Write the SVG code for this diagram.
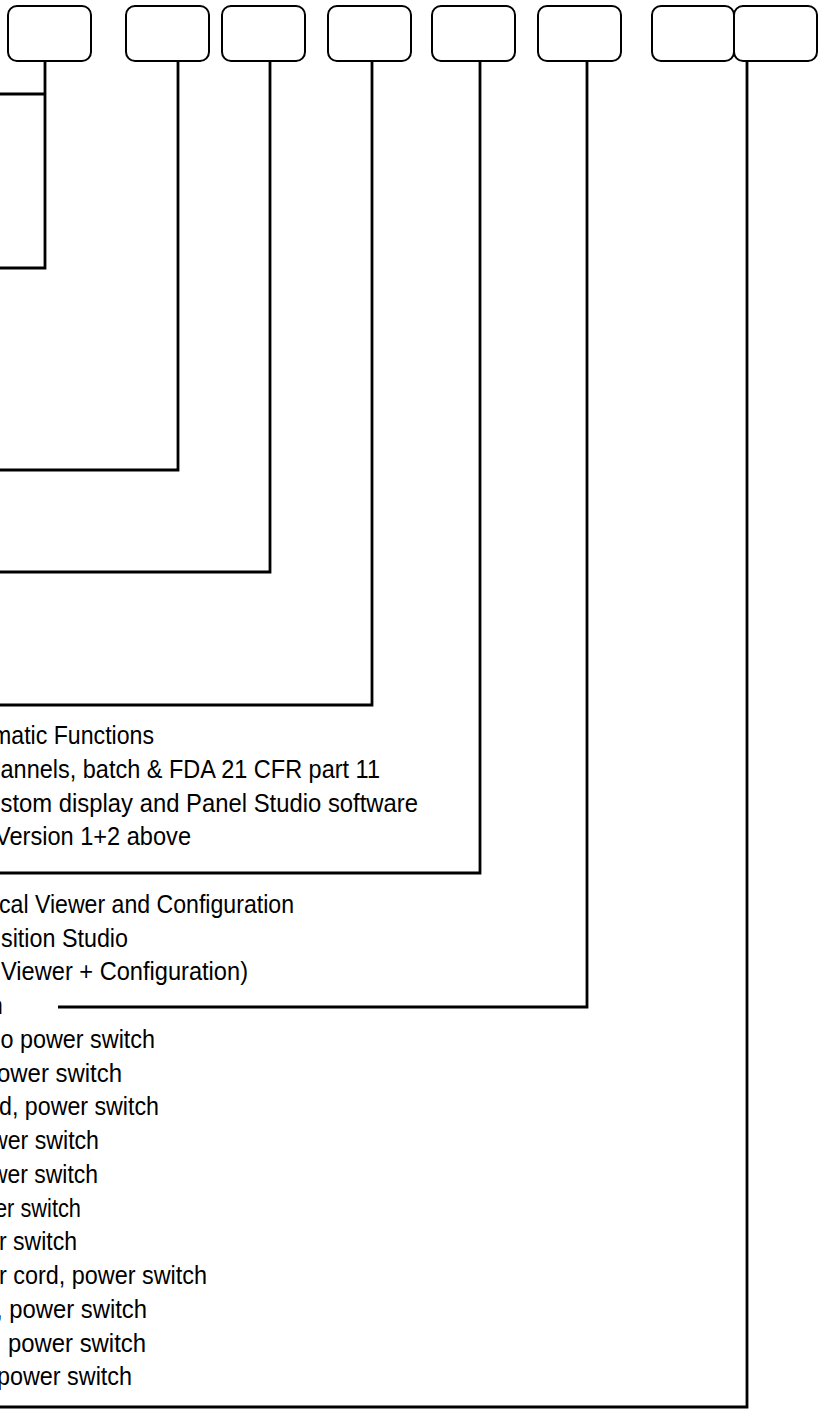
<svg xmlns="http://www.w3.org/2000/svg" width="819" height="1409" viewBox="0 0 819 1409">
<style>
.box{fill:#fff;stroke:#000;stroke-width:2}
.con{fill:none;stroke:#000;stroke-width:2.8;stroke-linecap:butt;stroke-linejoin:miter}
.t{font-family:"Liberation Sans",Arial,sans-serif;font-size:25.5px;fill:#000}
</style>
<rect width="819" height="1409" fill="#fff"/>
<g id="connectors">
<path class="con" d="M45,61 V268 H0 M45,94 H0"/>
<path class="con" d="M178,61 V470 H0"/>
<path class="con" d="M270,61 V572 H0"/>
<path class="con" d="M372,61 V705 H0"/>
<path class="con" d="M480,61 V873 H0"/>
<path class="con" d="M587,61 V1007 H58"/>
<path class="con" d="M747,61 V1407 H0"/>
</g>
<g id="node1"><rect class="box" x="8" y="6" width="83" height="55" rx="9"/></g>
<g id="node2"><rect class="box" x="126" y="6" width="83" height="55" rx="9"/></g>
<g id="node3"><rect class="box" x="222" y="6" width="83" height="55" rx="9"/></g>
<g id="node4"><rect class="box" x="328" y="6" width="83" height="55" rx="9"/></g>
<g id="node5"><rect class="box" x="432" y="6" width="83" height="55" rx="9"/></g>
<g id="node6"><rect class="box" x="538" y="6" width="83" height="55" rx="9"/></g>
<g id="node7"><rect class="box" x="652" y="6" width="82" height="55" rx="9"/></g>
<g id="node8"><rect class="box" x="734" y="6" width="83" height="55" rx="9"/></g>
<g id="labels">
<text class="t" x="-8" y="744" textLength="162" lengthAdjust="spacingAndGlyphs">matic Functions</text>
<text class="t" x="0.5" y="777.75" textLength="379.5" lengthAdjust="spacingAndGlyphs">annels, batch &amp; FDA 21 CFR part 11</text>
<text class="t" x="0.5" y="811.5" textLength="417.5" lengthAdjust="spacingAndGlyphs">stom display and Panel Studio software</text>
<text class="t" x="-5" y="845.25" textLength="196" lengthAdjust="spacingAndGlyphs">Version 1+2 above</text>
<text class="t" x="-1" y="912.75" textLength="295" lengthAdjust="spacingAndGlyphs">cal Viewer and Configuration</text>
<text class="t" x="1" y="946.5" textLength="127" lengthAdjust="spacingAndGlyphs">sition Studio</text>
<text class="t" x="1" y="980.25" textLength="247" lengthAdjust="spacingAndGlyphs">Viewer + Configuration)</text>
<text class="t" x="3" y="1014" text-anchor="end">n</text>
<text class="t" x="0.5" y="1047.75" textLength="154.5" lengthAdjust="spacingAndGlyphs">o power switch</text>
<text class="t" x="-3" y="1081.5" textLength="125" lengthAdjust="spacingAndGlyphs">ower switch</text>
<text class="t" x="-1" y="1115.25" textLength="160" lengthAdjust="spacingAndGlyphs">d, power switch</text>
<text class="t" x="-9" y="1149" textLength="108" lengthAdjust="spacingAndGlyphs">wer switch</text>
<text class="t" x="-9" y="1182.75" textLength="107" lengthAdjust="spacingAndGlyphs">wer switch</text>
<text class="t" x="-5" y="1216.5" textLength="86" lengthAdjust="spacingAndGlyphs">er switch</text>
<text class="t" x="-1" y="1250.25" textLength="78" lengthAdjust="spacingAndGlyphs">r switch</text>
<text class="t" x="-1" y="1284" textLength="208" lengthAdjust="spacingAndGlyphs">r cord, power switch</text>
<text class="t" x="-4" y="1317.75" textLength="151" lengthAdjust="spacingAndGlyphs">, power switch</text>
<text class="t" x="8" y="1351.5" textLength="138" lengthAdjust="spacingAndGlyphs">power switch</text>
<text class="t" x="-3" y="1385.25" textLength="135" lengthAdjust="spacingAndGlyphs">power switch</text>
</g>
</svg>
